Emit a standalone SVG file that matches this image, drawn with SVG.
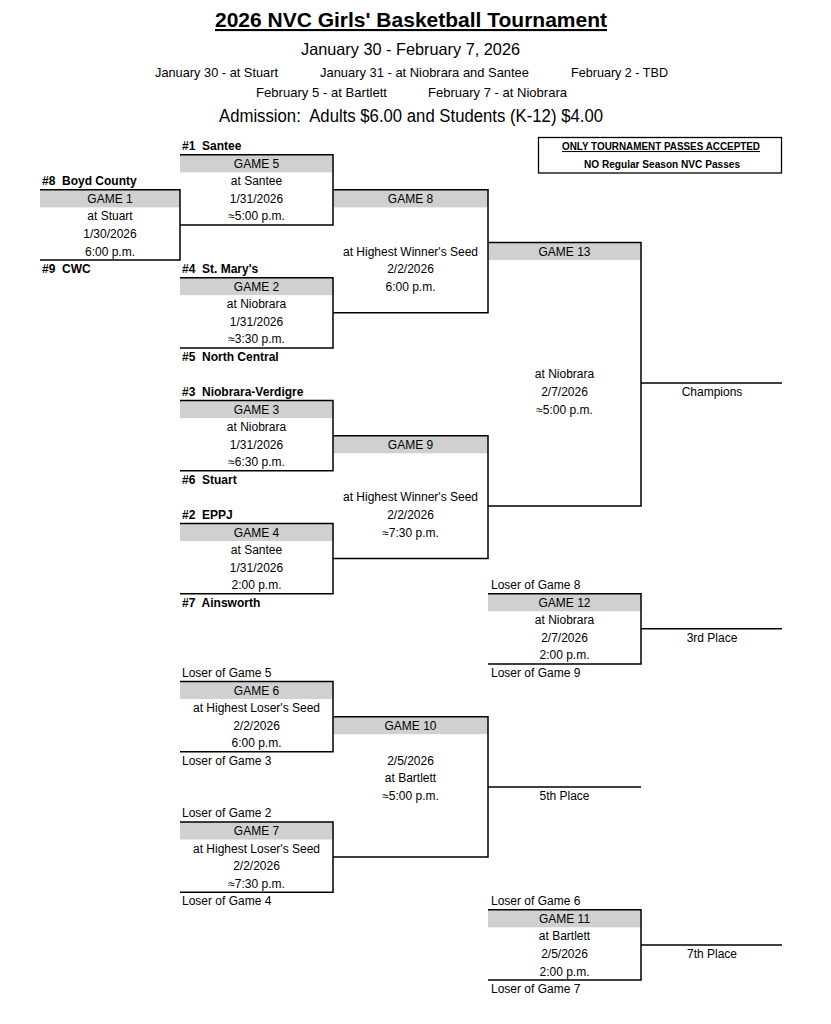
<svg xmlns="http://www.w3.org/2000/svg" width="831" height="1024" viewBox="0 0 831 1024">
<style>
text{font-family:"Liberation Sans",Arial,sans-serif;fill:#000;white-space:pre}
.c{font-size:12px;text-anchor:middle}
.l{font-size:12px}
.t{font-size:12px;font-weight:bold}
.h{fill:#d0d0d0}
.ln{stroke:#000;stroke-width:1.5;fill:none}
.bx{stroke:#000;stroke-width:1.3;fill:#fff}
</style>
<rect width="831" height="1024" fill="#fff"/>
<g id="header">
<text x="215" y="27" font-size="21" font-weight="bold" text-decoration="underline" textLength="392" lengthAdjust="spacingAndGlyphs">2026 NVC Girls' Basketball Tournament</text>
<text x="301" y="55" font-size="16.5" textLength="219" lengthAdjust="spacingAndGlyphs">January 30 - February 7, 2026</text>
<text x="155" y="77" font-size="13" textLength="123" lengthAdjust="spacingAndGlyphs">January 30 - at Stuart</text>
<text x="320" y="77" font-size="13" textLength="209" lengthAdjust="spacingAndGlyphs">January 31 - at Niobrara and Santee</text>
<text x="571" y="77" font-size="13" textLength="97" lengthAdjust="spacingAndGlyphs">February 2 - TBD</text>
<text x="256" y="97" font-size="13" textLength="131" lengthAdjust="spacingAndGlyphs">February 5 - at Bartlett</text>
<text x="428" y="97" font-size="13" textLength="139" lengthAdjust="spacingAndGlyphs">February 7 - at Niobrara</text>
<text x="219" y="122" font-size="17.5" textLength="384" lengthAdjust="spacingAndGlyphs">Admission:  Adults $6.00 and Students (K-12) $4.00</text>
</g>
<g id="notice">
<rect class="bx" x="538.5" y="137.5" width="243" height="35.5"/>
<text x="562" y="150" font-size="10.5" font-weight="bold" text-decoration="underline" textLength="198" lengthAdjust="spacingAndGlyphs">ONLY TOURNAMENT PASSES ACCEPTED</text>
<text x="584" y="167.7" font-size="10.5" font-weight="bold" textLength="156" lengthAdjust="spacingAndGlyphs">NO Regular Season NVC Passes</text>
</g>
<g id="game1">
<rect class="h" x="40" y="189.84" width="140" height="17.56"/>
<text class="t" x="42" y="185.3">#8  Boyd County</text>
<text class="c" x="110" y="202.8">GAME 1</text>
<text class="c" x="110" y="220.4">at Stuart</text>
<text class="c" x="110" y="238">1/30/2026</text>
<text class="c" x="110" y="255.5">6:00 p.m.</text>
<text class="t" x="42" y="273.1">#9  CWC</text>
</g>
<g id="game5">
<rect class="h" x="180" y="154.72" width="153" height="17.56"/>
<text class="t" x="182" y="150.2">#1  Santee</text>
<text class="c" x="256.5" y="167.7">GAME 5</text>
<text class="c" x="256.5" y="185.3">at Santee</text>
<text class="c" x="256.5" y="202.8">1/31/2026</text>
<text class="c" x="256.5" y="220.4">≈5:00 p.m.</text>
</g>
<g id="game2">
<rect class="h" x="180" y="277.64" width="153" height="17.56"/>
<text class="t" x="182" y="273.1">#4  St. Mary's</text>
<text class="c" x="256.5" y="290.6">GAME 2</text>
<text class="c" x="256.5" y="308.2">at Niobrara</text>
<text class="c" x="256.5" y="325.8">1/31/2026</text>
<text class="c" x="256.5" y="343.3">≈3:30 p.m.</text>
<text class="t" x="182" y="360.9">#5  North Central</text>
</g>
<g id="game3">
<rect class="h" x="180" y="400.56" width="153" height="17.56"/>
<text class="t" x="182" y="396">#3  Niobrara-Verdigre</text>
<text class="c" x="256.5" y="413.6">GAME 3</text>
<text class="c" x="256.5" y="431.1">at Niobrara</text>
<text class="c" x="256.5" y="448.7">1/31/2026</text>
<text class="c" x="256.5" y="466.2">≈6:30 p.m.</text>
<text class="t" x="182" y="483.8">#6  Stuart</text>
</g>
<g id="game4">
<rect class="h" x="180" y="523.48" width="153" height="17.56"/>
<text class="t" x="182" y="518.9">#2  EPPJ</text>
<text class="c" x="256.5" y="536.5">GAME 4</text>
<text class="c" x="256.5" y="554">at Santee</text>
<text class="c" x="256.5" y="571.6">1/31/2026</text>
<text class="c" x="256.5" y="589.2">2:00 p.m.</text>
<text class="t" x="182" y="606.7">#7  Ainsworth</text>
</g>
<g id="game8">
<rect class="h" x="333" y="189.84" width="155" height="17.56"/>
<text class="c" x="410.5" y="202.8">GAME 8</text>
<text class="c" x="410.5" y="255.5">at Highest Winner's Seed</text>
<text class="c" x="410.5" y="273.1">2/2/2026</text>
<text class="c" x="410.5" y="290.6">6:00 p.m.</text>
</g>
<g id="game9">
<rect class="h" x="333" y="435.68" width="155" height="17.56"/>
<text class="c" x="410.5" y="448.7">GAME 9</text>
<text class="c" x="410.5" y="501.4">at Highest Winner's Seed</text>
<text class="c" x="410.5" y="518.9">2/2/2026</text>
<text class="c" x="410.5" y="536.5">≈7:30 p.m.</text>
</g>
<g id="game13">
<rect class="h" x="488" y="242.52" width="153" height="17.56"/>
<text class="c" x="564.5" y="255.5">GAME 13</text>
<text class="c" x="564.5" y="378.4">at Niobrara</text>
<text class="c" x="564.5" y="396">2/7/2026</text>
<text class="c" x="564.5" y="413.6">≈5:00 p.m.</text>
</g>
<g id="champions">
<text class="c" x="712" y="396">Champions</text>
</g>
<g id="game12">
<rect class="h" x="488" y="593.72" width="153" height="17.56"/>
<text class="l" x="491" y="589.2">Loser of Game 8</text>
<text class="c" x="564.5" y="606.7">GAME 12</text>
<text class="c" x="564.5" y="624.3">at Niobrara</text>
<text class="c" x="564.5" y="641.8">2/7/2026</text>
<text class="c" x="564.5" y="659.4">2:00 p.m.</text>
<text class="l" x="491" y="677">Loser of Game 9</text>
</g>
<g id="third">
<text class="c" x="712" y="641.8">3rd Place</text>
</g>
<g id="game6">
<rect class="h" x="180" y="681.52" width="153" height="17.56"/>
<text class="l" x="182" y="677">Loser of Game 5</text>
<text class="c" x="256.5" y="694.5">GAME 6</text>
<text class="c" x="256.5" y="712.1">at Highest Loser's Seed</text>
<text class="c" x="256.5" y="729.6">2/2/2026</text>
<text class="c" x="256.5" y="747.2">6:00 p.m.</text>
<text class="l" x="182" y="764.8">Loser of Game 3</text>
</g>
<g id="game7">
<rect class="h" x="180" y="822" width="153" height="17.56"/>
<text class="l" x="182" y="817.4">Loser of Game 2</text>
<text class="c" x="256.5" y="835">GAME 7</text>
<text class="c" x="256.5" y="852.6">at Highest Loser's Seed</text>
<text class="c" x="256.5" y="870.1">2/2/2026</text>
<text class="c" x="256.5" y="887.7">≈7:30 p.m.</text>
<text class="l" x="182" y="905.2">Loser of Game 4</text>
</g>
<g id="game10">
<rect class="h" x="333" y="716.64" width="155" height="17.56"/>
<text class="c" x="410.5" y="729.6">GAME 10</text>
<text class="c" x="410.5" y="764.8">2/5/2026</text>
<text class="c" x="410.5" y="782.3">at Bartlett</text>
<text class="c" x="410.5" y="799.9">≈5:00 p.m.</text>
</g>
<g id="fifth">
<text class="c" x="564.5" y="799.9">5th Place</text>
</g>
<g id="game11">
<rect class="h" x="488" y="909.8" width="153" height="17.56"/>
<text class="l" x="491" y="905.2">Loser of Game 6</text>
<text class="c" x="564.5" y="922.8">GAME 11</text>
<text class="c" x="564.5" y="940.4">at Bartlett</text>
<text class="c" x="564.5" y="957.9">2/5/2026</text>
<text class="c" x="564.5" y="975.5">2:00 p.m.</text>
<text class="l" x="491" y="993">Loser of Game 7</text>
</g>
<g id="seventh">
<text class="c" x="712" y="957.9">7th Place</text>
</g>
<g id="connectors" class="ln">
<path d="M40 189.84H180V260.08H40"/>
<path d="M180 154.72H333V224.96H180"/>
<path d="M180 277.64H333V347.88H180"/>
<path d="M180 400.56H333V470.8H180"/>
<path d="M180 523.48H333V593.72H180"/>
<path d="M333 189.84H488V312.76H333"/>
<path d="M333 435.68H488V558.6H333"/>
<path d="M488 242.52H641V505.92H488"/>
<path d="M641 383H782"/>
<path d="M488 593.72H641V663.96H488"/>
<path d="M641 628.84H782"/>
<path d="M180 681.52H333V751.76H180"/>
<path d="M180 822H333V892.24H180"/>
<path d="M333 716.64H488V857.12H333"/>
<path d="M488 786.88H641"/>
<path d="M488 909.8H641V980.04H488"/>
<path d="M641 944.92H782"/>
</g>
</svg>
